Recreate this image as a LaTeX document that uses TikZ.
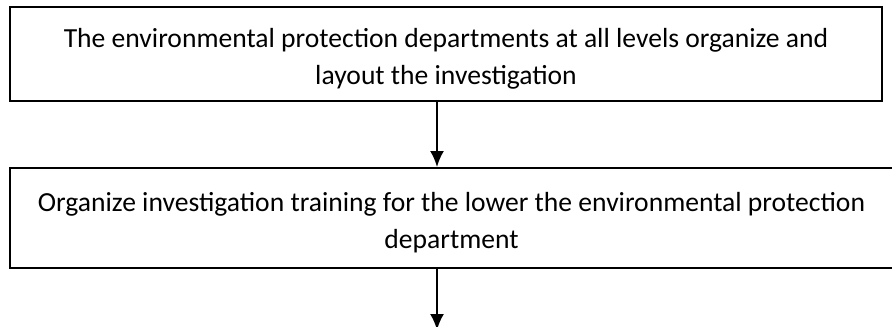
\documentclass[tikz,border=0pt]{standalone}
\usepackage{fontspec}
\setmainfont{Carlito}
\usetikzlibrary{positioning, arrows.meta, calc}

\begin{document}
\begin{tikzpicture}[x=0.5pt, y=0.5pt,
	stagebox/.style={draw, rectangle, line width=1.0pt, align=flush center,
		inner sep=0pt, font=\fontsize{13.8}{18.5}\selectfont},
	textdrop/.style={execute at begin node={\vskip#1\nointerlineskip}},
	flowarrow/.style={-{Latex[length=8pt, width=7pt]}, line width=1.0pt}]

	\useasboundingbox (0,0) rectangle (892,-326);

	%Organize and layout
	\node (layoutStage) at (446,-54) [stagebox, textdrop=5pt, minimum width=436pt,
	minimum height=47pt, text width=405pt]{The environmental protection departments at all levels organize and layout the investigation};

	%Training
	\node (trainingStage) at (451.5,-218) [stagebox, textdrop=5pt, minimum width=441.5pt,
	minimum height=50pt, text width=430pt]{Organize investigation training for the lower the environmental protection department};

	%Arrow column
	\coordinate (arrowColumn) at (437,0);
	\coordinate (nextStage) at (437,-330);

	%Links
	\draw[flowarrow] (layoutStage.south -| arrowColumn) -- (trainingStage.north -| arrowColumn);
	\draw[flowarrow] (trainingStage.south -| arrowColumn) -- (nextStage);

\end{tikzpicture}
\end{document}
